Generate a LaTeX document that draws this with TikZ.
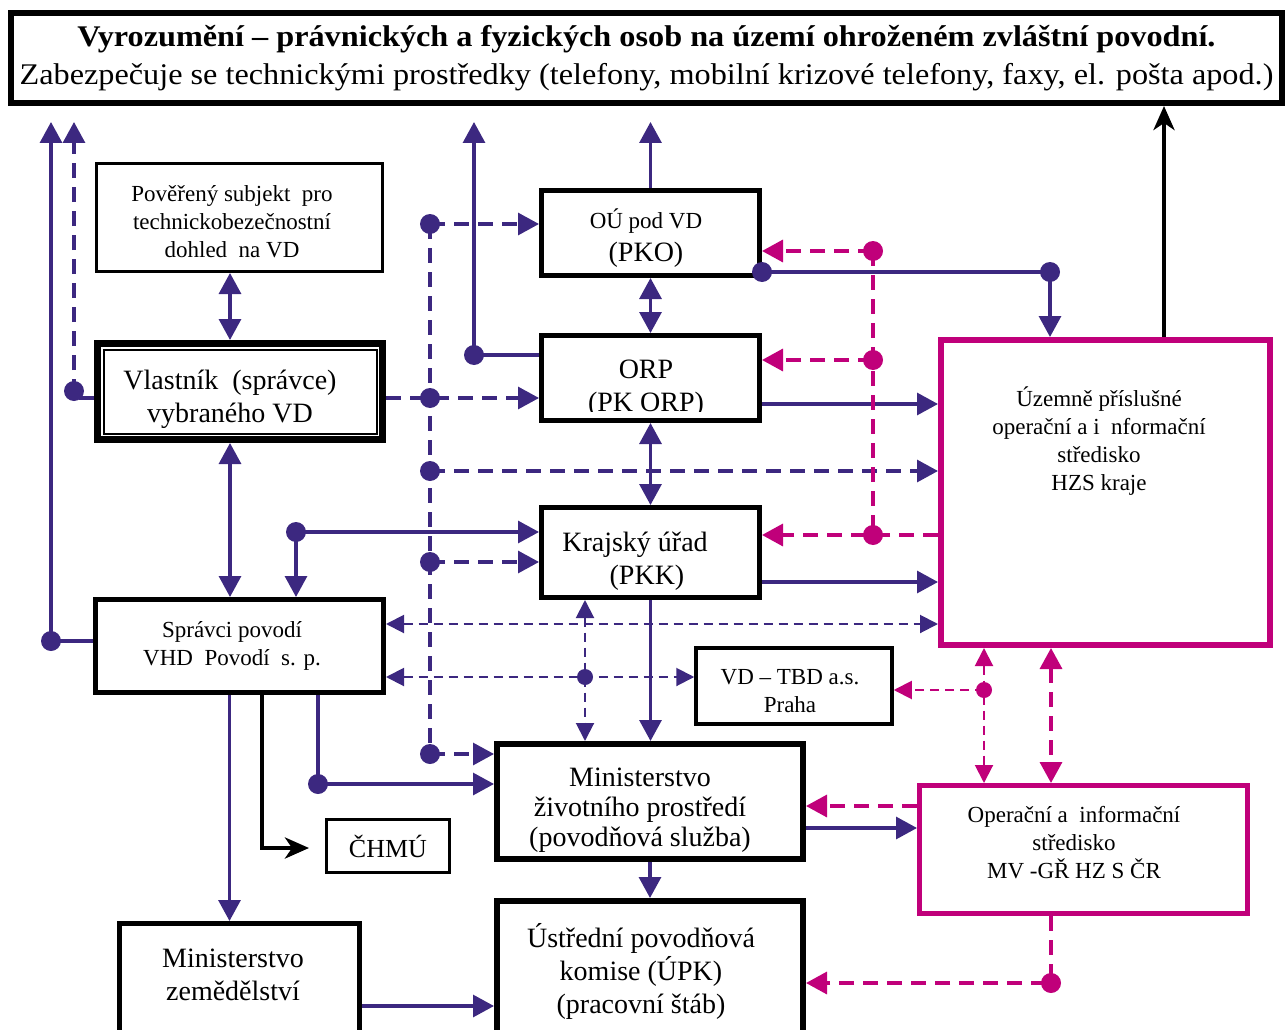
\documentclass[tikz,border=0pt]{standalone}
\usepackage{fontspec}
\setmainfont{Liberation Serif}
\usetikzlibrary{arrows.meta}
\definecolor{vdpurple}{RGB}{60,40,128}
\definecolor{vdmagenta}{RGB}{192,0,122}
\newcommand{\bigtxt}{\fontsize{28}{33}\selectfont}
\newcommand{\smalltxt}{\fontsize{23}{28}\selectfont}
\tikzset{
    tri/.tip={Triangle[length=21pt,width=22pt]},
    trismall/.tip={Triangle[length=18pt,width=18pt]},
    blacktip/.tip={Stealth[length=24pt,width=21pt,inset=7pt]},
    box/.style={draw, line width=5pt, align=center, inner sep=0pt},
    magbox/.style={box, draw=vdmagenta},
    sol/.style={draw=vdpurple, line width=3.2pt},
    dsh/.style={draw=vdpurple, line width=3.2pt, dash pattern=on 15pt off 9pt},
    tdsh/.style={draw=vdpurple, line width=2pt, dash pattern=on 9pt off 6pt},
    mdsh/.style={draw=vdmagenta, line width=3.4pt, dash pattern=on 15pt off 9pt},
    mtdsh/.style={draw=vdmagenta, line width=2pt, dash pattern=on 9pt off 6pt},
    blk/.style={draw=black, line width=4.5pt},
}
\begin{document}
\begin{tikzpicture}[x=1pt,y=-1pt]
        \useasboundingbox (0,0) rectangle (1288,1030);
        \begin{scope}[every node/.style={box}]
            \node[line width=6pt, minimum width=1271, minimum height=90, font=\fontsize{30}{38}\selectfont] (top) at (646.5,58) {\scalebox{1.075}[1]{\textbf{Vyrozumění – právnických a fyzických osob na území ohroženém zvláštní povodní.}}\\\scalebox{1.075}[1]{Zabezpečuje se technickými prostředky (telefony, mobilní krizové telefony, faxy, el. pošta apod.)}};
            \node[line width=3pt, minimum width=286, minimum height=108] (pover) at (239.5,217.5) {};
            \node[line width=7pt, minimum width=285, minimum height=96] (vlast) at (240,391.5) {};
            \node[minimum width=288, minimum height=93] (spr) at (239.5,646) {};
            \node[minimum width=240, minimum height=119] (mze) at (239.5,983) {};
            \node[line width=3pt, minimum width=123, minimum height=53, font=\fontsize{26}{30}\selectfont] (chmu) at (388,846) {ČHMÚ};
            \node[minimum width=218, minimum height=85] (ou) at (650.5,233) {};
            \node[minimum width=218, minimum height=85] (orp) at (650.5,378) {};
            \node[minimum width=218, minimum height=90] (kraj) at (650.5,552.5) {};
            \node[line width=3.5pt, minimum width=196, minimum height=76] (tbd) at (794,686) {};
            \node[line width=6pt, minimum width=306, minimum height=115] (mzp) at (650,801.5) {};
            \node[line width=6pt, minimum width=306, minimum height=141] (upk) at (650,971.5) {};
            \node[magbox, line width=6pt, minimum width=329, minimum height=305] (hzs) at (1105.5,492.5) {};
            \node[magbox, minimum width=328, minimum height=128] (mv) at (1083.5,849.5) {};
        \end{scope}
        \draw[line width=2pt] ([shift={(9.5,9.5)}]vlast.north west) rectangle ([shift={(-9.5,-9.5)}]vlast.south east);
        % texts
        \begin{scope}[every node/.style={align=center, font=\smalltxt}]
            \node (povertxt) at (232,221.5) {Pověřený subjekt\ \ pro\\technickobezečnostní\\dohled\ \ na VD};
            \node[font=\bigtxt] (vlasttxt) at (230,399.5) {Vlastník\ \ (správce)\\vybraného VD};
            \node (sprtxt) at (232,646) {Správci povodí\\VHD\ \ Povodí\ \ s. p.};
            \node[font=\bigtxt] (mzetxt) at (233,975) {Ministerstvo\\zemědělství};
            \node[font=\bigtxt] (outxt) at (646,238) {{\smalltxt OÚ pod VD}\\(PKO)};
            \node[font=\bigtxt] (krajtxt) at (647,561.5) {Krajský úřad\hspace*{24pt}\\(PKK)};
            \node (tbdtxt) at (790,691) {VD – TBD a.s.\\Praha};
            \node[font=\fontsize{28}{30}\selectfont] (mzptxt) at (640,810) {Ministerstvo\\životního prostředí\\(povodňová služba)};
            \node[font=\bigtxt] (upktxt) at (641,971.5) {Ústřední povodňová\\komise (ÚPK)\\(pracovní štáb)};
            \node (hzstxt) at (1099,441) {Územně příslušné\\operační a i\ \ nformační\\středisko\\HZS kraje};
            \node (mvtxt) at (1074,842.5) {Operační a\ \ informační\\středisko\\MV -GŘ HZ S ČR};
        \end{scope}
        \begin{scope}
            \clip (545,339) rectangle (756,411);
            \node[font=\bigtxt, align=center] (orptxt) at (646,388.5) {ORP\\(PK ORP)};
        \end{scope}
        % junctions and free ends
        \coordinate (jSpr) at (51,641);
        \coordinate (eSpr) at (51,122);
        \coordinate (jVl) at (74,398);
        \coordinate (eVl) at (74,122);
        \coordinate (cV) at (230,0);
        \coordinate (cChmu) at (262,848);
        \coordinate (eChmu) at (309,848);
        \coordinate (jKraj) at (296,532);
        \coordinate (jMzp) at (318,784);
        \coordinate (jOrp) at (474,355);
        \coordinate (eOrp) at (474,122);
        \coordinate (eOu) at (651,122);
        \coordinate (jOu) at (762,272);
        \coordinate (jHzs) at (1050,272);
        \coordinate (cBlack) at (1164,0);
        \coordinate (d1) at (430,224);
        \coordinate (d2) at (430,398);
        \coordinate (d3) at (430,471);
        \coordinate (d4) at (430,562);
        \coordinate (d5) at (430,754);
        \coordinate (jTbd) at (585,677);
        \coordinate (lSpr) at (600,624);
        \coordinate (lOrp) at (850,404);
        \coordinate (lKraj) at (850,582);
        \coordinate (lMze) at (420,1006);
        \coordinate (lMzp) at (860,828);
        \coordinate (lMv) at (860,806);
        \coordinate (m1) at (873,251);
        \coordinate (m2) at (873,360);
        \coordinate (m3) at (873,535);
        \coordinate (jHzsM) at (984,690);
        \coordinate (jMv) at (1051,983);
        \begin{scope}[every edge/.style={sol}]
            \draw[sol, -tri] (spr.west |- jSpr) -- (jSpr) -- (eSpr);
            \draw[sol, -tri] (orp.west |- jOrp) -- (jOrp) -- (eOrp);
            \path [-tri] (ou.north) edge (ou.north |- eOu);
            \path [tri-tri] (pover.south -| cV) edge (vlast.north -| cV);
            \path [tri-tri] (vlast.south -| cV) edge (spr.north -| cV);
            \path [-tri] ([xshift=-10pt]spr.south) edge ([xshift=-10pt]mze.north);
            \path [tri-tri] (ou.south) edge (orp.north);
            \path [tri-tri] (orp.south) edge (kraj.north);
            \path [-tri] (jKraj) edge (jKraj -| kraj.west);
            \path [-tri] (jKraj) edge (jKraj |- spr.north);
            \draw[sol] (spr.south -| jMzp) -- (jMzp);
            \path [-tri] (jMzp) edge (jMzp -| mzp.west);
            \draw[sol] (jOu) -- (jHzs);
            \path [-tri] (jHzs) edge (jHzs |- hzs.north);
            \path [-tri] (lOrp -| orp.east) edge (lOrp -| hzs.west);
            \path [-tri] (lKraj -| kraj.east) edge (lKraj -| hzs.west);
            \path [-tri] (kraj.south) edge (kraj.south |- mzp.north);
            \path [-tri] (mzp.south) edge (upk.north);
            \path [-tri] (lMze -| mze.east) edge (lMze -| upk.west);
            \path [-tri] (lMzp -| mzp.east) edge (lMzp -| mv.west);
        \end{scope}
        \begin{scope}[every edge/.style={blk}]
            \draw[blk, -blacktip] (spr.south -| cChmu) -- (cChmu) -- (eChmu);
            \path [-blacktip] (hzs.north -| cBlack) edge (top.south -| cBlack);
        \end{scope}
        \begin{scope}[every edge/.style={dsh}]
            \draw[dsh] (d1) -- (d5);
            \draw[dsh, -tri] (vlast.west |- jVl) -- (jVl) -- (eVl);
            \path [-tri] (d1) edge (d1 -| ou.west);
            \path [-tri] (vlast.east |- d2) edge (d2 -| orp.west);
            \path [-tri] (d3) edge (d3 -| hzs.west);
            \path [-tri] (d4) edge (d4 -| kraj.west);
            \path [-tri] (d5) edge (d5 -| mzp.west);
        \end{scope}
        \begin{scope}[every edge/.style={tdsh}]
            \path [trismall-trismall] (lSpr -| spr.east) edge (lSpr -| hzs.west);
            \path [trismall-trismall] (jTbd -| spr.east) edge (jTbd -| tbd.west);
            \path [trismall-trismall] (kraj.south -| jTbd) edge (mzp.north -| jTbd);
        \end{scope}
        \begin{scope}[every edge/.style={mdsh}]
            \draw[mdsh] (m1) -- (m3);
            \path [-tri] (m1) edge (m1 -| ou.east);
            \path [-tri] (m2) edge (m2 -| orp.east);
            \path [-tri] (m3 -| hzs.west) edge (m3 -| kraj.east);
            \path [tri-tri] (hzs.south -| jMv) edge (mv.north -| jMv);
            \path [-tri] (lMv -| mv.west) edge (lMv -| mzp.east);
            \draw[mdsh, -tri] (mv.south -| jMv) -- (jMv) -- (jMv -| upk.east);
        \end{scope}
        \begin{scope}[every edge/.style={mtdsh}]
            \path [-trismall] (jHzsM) edge (jHzsM -| tbd.east);
            \path [trismall-trismall] (hzs.south -| jHzsM) edge (mv.north -| jHzsM);
        \end{scope}
        % dots
        \begin{scope}[vdpurple]
            \fill (jSpr) circle (10pt);
            \fill ([yshift=7pt]jVl) circle (10pt);
            \fill (jKraj) circle (10pt);
            \fill (jMzp) circle (10pt);
            \fill (jOrp) circle (10pt);
            \fill (jOu) circle (10pt);
            \fill (jHzs) circle (10pt);
            \fill (d1) circle (10pt);
            \fill (d2) circle (10pt);
            \fill (d3) circle (10pt);
            \fill (d4) circle (10pt);
            \fill (d5) circle (10pt);
            \fill (jTbd) circle (8pt);
        \end{scope}
        \begin{scope}[vdmagenta]
            \fill (m1) circle (10pt);
            \fill (m2) circle (10pt);
            \fill (m3) circle (10pt);
            \fill (jMv) circle (10pt);
            \fill (jHzsM) circle (8pt);
        \end{scope}
\end{tikzpicture}
\end{document}
